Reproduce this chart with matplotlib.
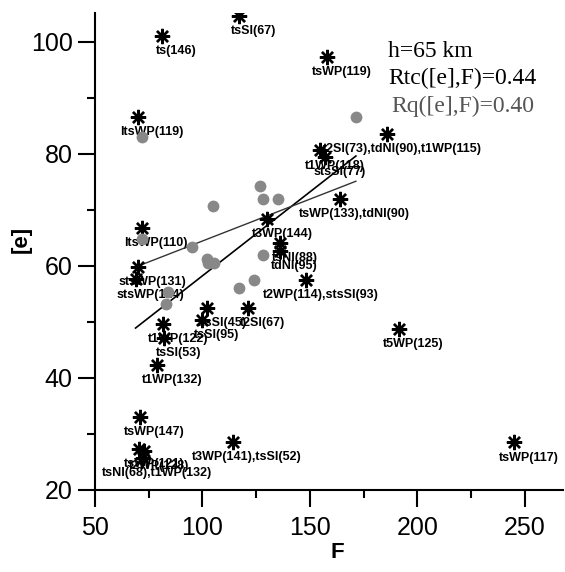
import matplotlib
matplotlib.use('Agg')
import matplotlib.pyplot as plt

plt.rcParams['font.family'] = ['Liberation Sans', 'DejaVu Sans']

# stars: events (F, [e]) with labels
star_F = [81.0, 117.1, 158.1, 69.9, 186.1, 154.7, 157.0, 164.1, 130.2, 71.7,
          136.0, 136.0, 70.1, 68.9, 148.1, 102.0, 99.9, 121.2, 81.8, 82.1,
          79.0, 70.8, 191.5, 114.0, 245.0, 70.6, 72.9, 72.3]
star_e = [101.1, 104.6, 97.3, 86.6, 83.5, 80.6, 79.4, 72.0, 68.4, 66.8,
          64.1, 62.7, 59.8, 57.6, 57.5, 52.5, 50.4, 52.5, 49.6, 47.1,
          42.3, 33.0, 48.7, 28.6, 28.5, 27.4, 27.0, 25.7]
star_labels = ['ts(146)', 'tsSI(67)', 'tsWP(119)', 'ltsWP(119)',
               't2SI(73),tdNI(90),t1WP(115)', 't1WP(118)', 'stsSI(77)',
               'tsWP(133),tdNI(90)', 't3WP(144)', 'ltsWP(110)',
               'tsNI(88)', 'tdNI(95)', 'stsWP(131)', 'stsWP(124)',
               't2WP(114),stsSI(93)', 'ltsSI(45)', 'tsSI(95)', 't2SI(67)',
               't1WP(122)', 'tsSI(53)', 't1WP(132)', 'tsWP(147)', 't5WP(125)',
               't3WP(141),tsSI(52)', 'tsWP(117)', 'tsWP(121)', 't2WP(128)',
               'tsNI(68),t1WP(132)']

# gray dots
dot_F = [71.7, 171.4, 127.0, 128.0, 135.1, 105.0, 71.7, 95.0, 102.0, 102.7,
         105.3, 128.0, 124.0, 117.1, 84.1, 83.0]
dot_e = [83.0, 86.6, 74.3, 72.0, 72.0, 70.6, 64.8, 63.3, 61.2, 60.5,
         60.5, 62.0, 57.5, 56.1, 55.4, 53.2]

# regression lines (end points)
tc_F = [68.9, 171.4]
tc_e = [48.9, 79.6]
q_F = [71.7, 171.4]
q_e = [60.2, 75.1]

fig = plt.figure(figsize=(5.65, 5.72), dpi=100)
ax = fig.add_axes([0.168, 0.1434, 0.8283, 0.8346])

ax.plot(tc_F, tc_e, color='black', lw=1.2, zorder=2)
ax.plot(q_F, q_e, color='#333333', lw=1.0, zorder=2)

for x, y, lbl in zip(star_F, star_e, star_labels):
    ax.annotate(lbl, (x, y), xytext=(10.5, -11), textcoords='offset points',
                ha='center', va='center', fontsize=9, fontweight='bold', zorder=1)

ax.plot(star_F, star_e, ls='none', marker=(8, 2, 0), ms=11, mew=1.7,
        color='black', zorder=3)
ax.plot(dot_F, dot_e, ls='none', marker='o', ms=8.5, color='#888888',
        mec='none', zorder=4)

ax.set_xlim(50, 267.7)
ax.set_ylim(20, 105.2)
ax.set_xticks([50, 100, 150, 200, 250])
ax.set_xticks([75, 125, 175, 225], minor=True)
ax.set_yticks([20, 40, 60, 80, 100])
ax.set_yticks([30, 50, 70, 90], minor=True)

for s in ['top', 'right']:
    ax.spines[s].set_visible(False)
for s in ['left', 'bottom']:
    ax.spines[s].set_linewidth(1.5)

ax.tick_params(which='major', direction='out', length=12, width=1.5, labelsize=18)
ax.tick_params(which='minor', direction='out', length=6, width=1.5)
ax.tick_params(axis='x', which='major', pad=7)
ax.tick_params(axis='y', which='major', pad=4)

ax.set_xlabel('F', fontsize=16, fontweight='bold')
ax.set_ylabel('[e]', fontsize=16, fontweight='bold')
ax.xaxis.set_label_coords(0.519, -0.108)
ax.yaxis.set_label_coords(-0.136, 0.525)

txt = dict(family=['Liberation Serif', 'DejaVu Serif'], fontsize=17,
           ha='left', va='center', transform=fig.transFigure)
fig.text(388.3 / 565, 1 - 51.7 / 572, 'h=65 km', color='black', **txt)
fig.text(388.3 / 565, 1 - 78.3 / 572, 'Rtc([e],F)=0.44', color='black', **txt)
fig.text(391.7 / 565, 1 - 106.7 / 572, 'Rq([e],F)=0.40', color='#555555', **txt)

plt.savefig('out.png', dpi=100)
